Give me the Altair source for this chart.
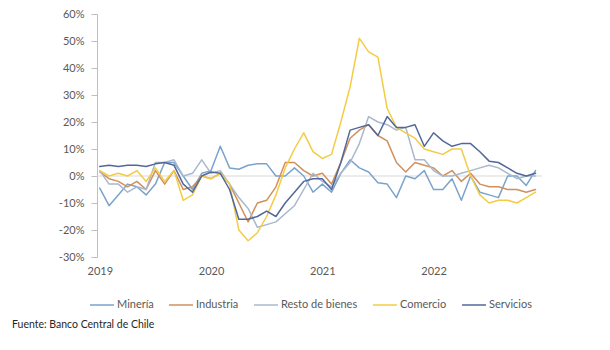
import json
import altair as alt
import pandas as pd

# ---- data (monthly, Jan 2019 - Dec 2022, % y/y) ----
years = ["2019", "2020", "2021", "2022"]
series = ["Minería", "Industria", "Resto de bienes", "Comercio", "Servicios"]
colors = ["#7AA3CC", "#D0905E", "#A9B8CC", "#F3CC45", "#50689A"]
y_ticks = [-30, -20, -10, 0, 10, 20, 30, 40, 50, 60]

mineria = [-4.5, -11, -7, -3, -4, -7, -3, 5, 5, 0, -5, 1,
           2, 11, 3, 2.5, 4, 4.5, 4.5, 0, 0, 3, 0, -6,
           -3, -6, 1, 6, 3, 1.5, -2.5, -3, -8, 0, -1, 2,
           -5, -5, -1, -9, 0, -6, -7, -8, 0, 0, -3.5, 2]
industria = [1.5, -1, -2, -4, -2, -5, 2, -3, 2, -5, -4, 0,
             -1, 1, -3, -10, -17, -10, -9, -4, 5, 5, 2, 0,
             1, -3, 5, 14, 17, 19, 15, 13, 5, 1.5, 5, 4,
             3, 0, 2, -2, 1, -3, -4, -4, -5, -5, -6, -5]
resto = [2, -3, -3, -6, -4, -5, 5, 5, 6, 0, 1, 6,
         1, 2, -3, -8, -12, -19, -18, -17, -14, -11, -5, 1,
         -2, -4, 1, 5, 12, 22, 20, 19, 17, 18, 6, 6,
         2, 0, 0, 1, 2, 3, 4, 3, 1, -1, 0, 0]
comercio = [2, 0, 1, 0, 2, -2, 3, -2, 2, -9, -7, 0,
            -1, 1, -3, -20, -24, -21, -15, -7, 3, 10, 16, 9,
            6.5, 8, 20, 33, 51, 46, 44, 25, 18, 16, 14, 10,
            9, 8, 10, 10, 0, -7, -10, -9, -9, -10, -8, -6]
servicios = [3.5, 4, 3.5, 4, 4, 3.5, 4.5, 5, 4, -3, -6, 0,
             1.5, 1, -5, -16, -16, -15, -13, -15, -10, -6, -2, -1,
             -1, -5, 5, 17, 18, 19, 15, 22, 18, 18, 19, 11,
             16, 13, 11, 12, 12, 9, 5.5, 5, 3, 1, 0, 1]
caption = "Fuente: Banco Central de Chile"

rows = []
for name, vals in zip(series, [mineria, industria, resto, comercio, servicios]):
    for i, v in enumerate(vals):
        rows.append({"mes": i, "serie": name, "valor": v})
df = pd.DataFrame(rows)

W, H = 445, 243
OX, OY = 97, 14

x_enc = alt.X(
    "mes:Q",
    scale=alt.Scale(domain=[-0.3, 47.7], nice=False, zero=False),
    axis=alt.Axis(
        values=[0, 12, 24, 36],
        labelExpr=json.dumps(years) + "[datum.value / 12]",
        domain=False, ticks=False, grid=False, title=None,
        labelPadding=8, labelFontSize=11, labelColor="#595959",
        labelOverlap=False, labelFlush=False,
    ),
)
y_axis = alt.Axis(
    values=y_ticks,
    tickCount=len(y_ticks),
    labelExpr="datum.value + '%'",
    grid=False, title=None, domainColor="#BFBFBF", tickColor="#BFBFBF",
    tickSize=6, labelPadding=7, labelFontSize=11, labelColor="#595959",
    labelOverlap=False, labelFlush=False, labelBound=False,
)
y_scale = alt.Scale(domain=[-30, 60], nice=False, zero=False)

zero = alt.Chart(pd.DataFrame({"valor": [0]})).mark_rule(
    color="#D9D9D9", strokeWidth=1
).encode(y=alt.Y("valor:Q", scale=y_scale, axis=y_axis))

lines = alt.Chart(df).mark_line(strokeWidth=1.5, strokeJoin="round", strokeCap="round").encode(
    x=x_enc,
    y=alt.Y("valor:Q", scale=y_scale, axis=y_axis),
    color=alt.Color(
        "serie:N",
        scale=alt.Scale(domain=series, range=colors),
        legend=alt.Legend(
            title=None, orient="none", direction="horizontal",
            legendX=89 - OX, legendY=292 - OY,
            symbolType="stroke", symbolSize=576, symbolStrokeWidth=1.5,
            labelOffset=2, columnPadding=12, labelFontSize=11, labelColor="#595959",
        ),
    ),
    order="mes:Q",
)

cap = alt.Chart(alt.Data(values=[{"t": caption}])).mark_text(
    align="left", baseline="middle", fontSize=10.5, fontWeight="normal", color="#262626"
).encode(x=alt.value(12 - OX), y=alt.value(325 - OY), text="t:N")

chart = alt.layer(zero, lines, cap).properties(
    width=W, height=H,
    autosize=alt.AutoSizeParams(type="none"),
    padding={"left": OX, "top": OY, "right": 610 - OX - W, "bottom": 350 - OY - H},
).configure(font="Lato").configure_view(stroke=None)

chart.save("out.html", embed_options={"renderer": "svg", "actions": False})
